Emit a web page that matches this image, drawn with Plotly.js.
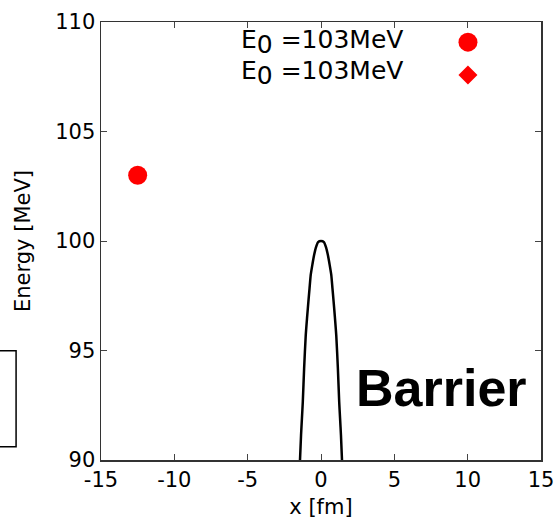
<!DOCTYPE html>
<html>
<head>
<meta charset="utf-8">
<script src="https://cdn.plot.ly/plotly-3.0.1.min.js"></script>
<style>html,body{margin:0;padding:0;background:#fff;}#chart{width:556px;height:519px;}</style>
</head>
<body>
<div id="chart"></div>
<script>
// Barrier curve (x in fm, energy in MeV)
const barrierX = [-1.45, -1.36, -1.30, -1.24, -1.15, -1.04, -0.95, -0.86, -0.78, -0.70, -0.58, -0.47, -0.35, -0.20, 0.0, 0.20, 0.35, 0.47, 0.58, 0.70, 0.78, 0.86, 0.95, 1.04, 1.15, 1.24, 1.30, 1.36, 1.45];
const barrierE = [89.7, 91.14, 91.9, 92.66, 94.19, 95.7, 96.5, 97.23, 97.85, 98.45, 98.95, 99.36, 99.7, 99.95, 100.0, 99.95, 99.7, 99.36, 98.95, 98.45, 97.85, 97.23, 96.5, 95.7, 94.19, 92.66, 91.9, 91.14, 89.7];
// Circle series
const circleX = [-12.5];
const circleE = [103];
// Diamond series (no visible points)
const diamondX = [];
const diamondE = [];
const seriesNames = ["E<sub><span style=\"font-size:25px\">0</span></sub> =103MeV", "E<sub><span style=\"font-size:25px\">0</span></sub> =103MeV"];
const xTicks = [-15, -10, -5, 0, 5, 10, 15];
const yTicks = [90, 95, 100, 105, 110];

const red = '#ff0000';
const font = 'DejaVu Sans, Verdana, sans-serif';

const traces = [
  {x: barrierX, y: barrierE, type: 'scatter', mode: 'lines', line: {color: '#000', width: 2.5, shape: 'spline', smoothing: 0.6}, showlegend: false, hoverinfo: 'skip'},
  {x: circleX, y: circleE, type: 'scatter', mode: 'markers', name: 'circle', marker: {symbol: 'circle', size: 19, color: red}, showlegend: false},
  {x: diamondX, y: diamondE, type: 'scatter', mode: 'markers', name: 'diamond', marker: {symbol: 'diamond', size: 18, color: red}, showlegend: false}
];

const lx = 0.834, ly1 = 0.954, ly2 = 0.879;
const layout = {
  width: 556, height: 519,
  margin: {l: 101, r: 15, t: 22, b: 59},
  paper_bgcolor: '#fff', plot_bgcolor: '#fff',
  font: {family: font, color: '#000', size: 21},
  showlegend: false,
  xaxis: {
    range: [-15, 15], tickvals: xTicks, ticktext: xTicks.map(String),
    ticks: 'inside', ticklen: 6, tickwidth: 1, tickcolor: '#444',
    showline: true, linecolor: '#333', linewidth: 1.5, mirror: 'ticks',
    showgrid: false, zeroline: false,
    tickfont: {family: font, size: 21},
    title: {text: 'x [fm]', font: {family: font, size: 21}, standoff: 8}
  },
  yaxis: {
    range: [90, 110], tickvals: yTicks, ticktext: yTicks.map(String),
    ticks: 'inside', ticklen: 6, tickwidth: 1, tickcolor: '#444',
    showline: true, linecolor: '#333', linewidth: 1.5, mirror: 'ticks',
    showgrid: false, zeroline: false,
    tickfont: {family: font, size: 21},
    title: {text: 'Energy [MeV]', font: {family: font, size: 21}, standoff: 19}
  },
  annotations: [
    {xref: 'paper', yref: 'paper', x: 0.690, y: ly1, xanchor: 'right', yanchor: 'middle', showarrow: false,
     text: seriesNames[0], font: {family: font, size: 25, color: '#000'}},
    {xref: 'paper', yref: 'paper', x: 0.690, y: (ly2 + 0.005), xanchor: 'right', yanchor: 'middle', showarrow: false,
     text: seriesNames[1], font: {family: font, size: 25, color: '#000'}},
    {xref: 'paper', yref: 'paper', x: 0.972, y: 0.164, xanchor: 'right', yanchor: 'middle', showarrow: false,
     text: '<b>Barrier</b>', font: {family: 'Liberation Sans, Arial, sans-serif', size: 52, color: '#000'}}
  ],
  shapes: [
    {type: 'circle', xref: 'paper', yref: 'paper', xsizemode: 'pixel', ysizemode: 'pixel',
     xanchor: lx, yanchor: ly1, x0: -9.5, x1: 9.5, y0: -9.5, y1: 9.5, fillcolor: red, line: {width: 0}},
    {type: 'path', xref: 'paper', yref: 'paper', xsizemode: 'pixel', ysizemode: 'pixel',
     xanchor: lx, yanchor: ly2, path: 'M 0 9.5 L 9.5 0 L 0 -9.5 L -9.5 0 Z', fillcolor: red, line: {width: 0}},
    {type: 'rect', xref: 'paper', yref: 'paper', x0: -0.26, x1: -0.193, y0: 0.030, y1: 0.2495,
     line: {color: '#000', width: 1.5}, fillcolor: 'rgba(0,0,0,0)'}
  ]
};

Plotly.newPlot('chart', traces, layout, {staticPlot: true, displayModeBar: false});
</script>
</body>
</html>
